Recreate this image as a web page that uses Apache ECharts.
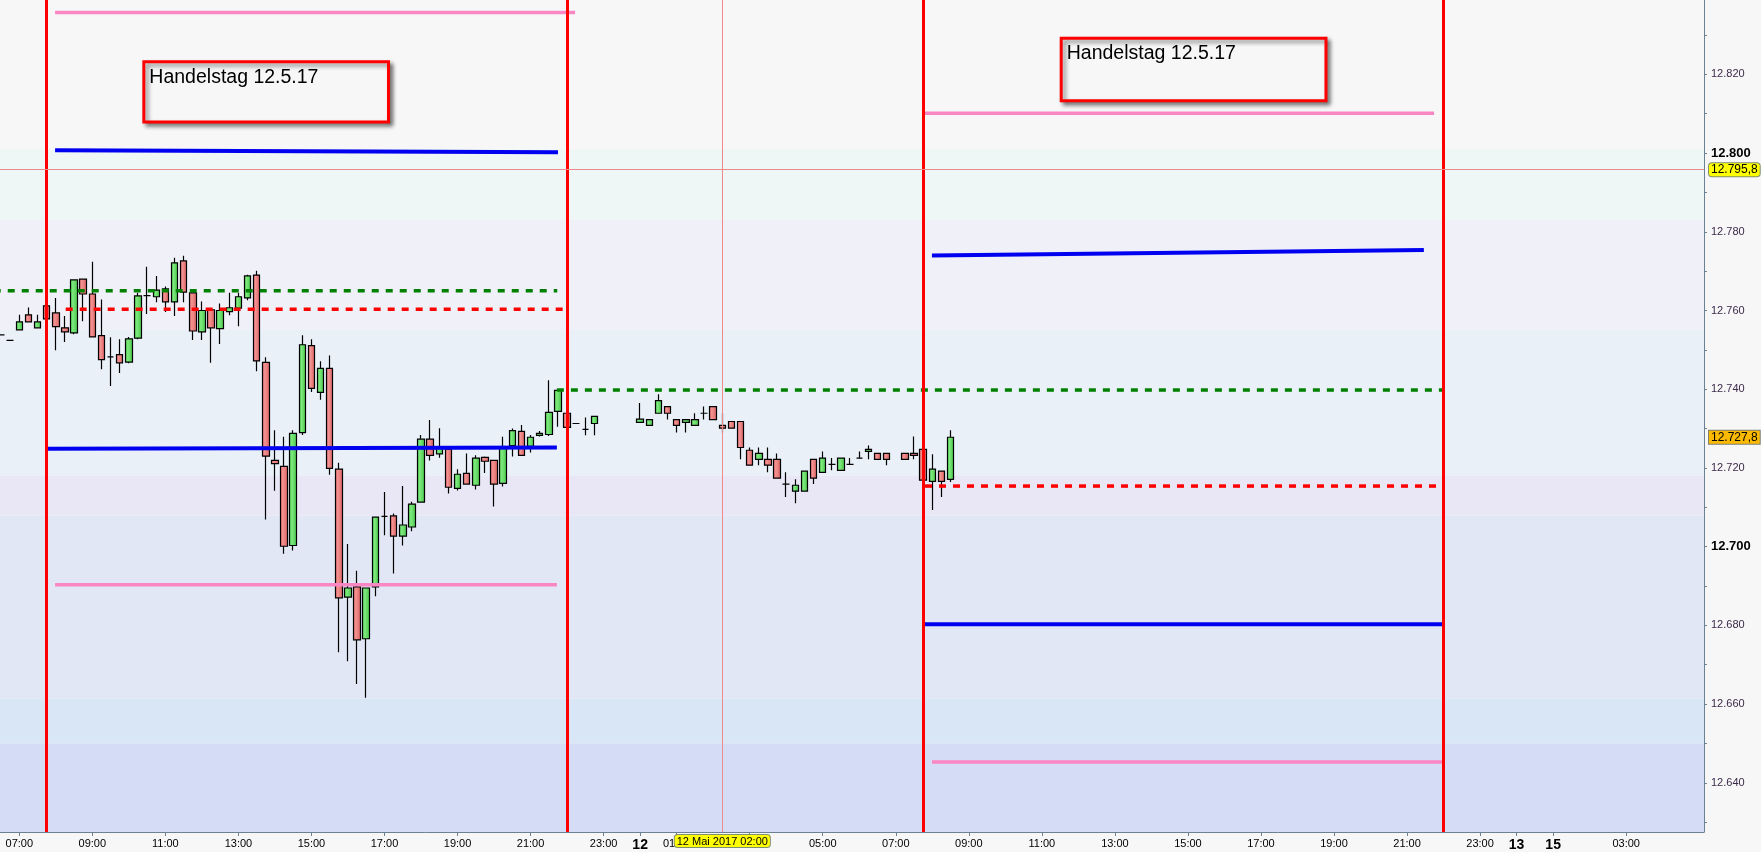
<!DOCTYPE html>
<html>
<head>
<meta charset="utf-8">
<title>DAX 15 Min - Handelstag 12.5.17</title>
<script src="https://cdn.jsdelivr.net/npm/echarts@6.0.0/dist/echarts.min.js"></script>
<style>
  html, body { margin: 0; padding: 0; background: #f7f7f7; }
  #chart { width: 1761px; height: 852px; }
</style>
</head>
<body>
<div id="chart"></div>
<script>
// 15-Minuten-Kerzen ("Tag HH:MM")
const candleTime = [
  '11 06:30', '11 06:45', '11 07:00', '11 07:15', '11 07:30', '11 07:45', '11 08:00', '11 08:15',
  '11 08:30', '11 08:45', '11 09:00', '11 09:15', '11 09:30', '11 09:45', '11 10:00', '11 10:15',
  '11 10:30', '11 10:45', '11 11:00', '11 11:15', '11 11:30', '11 11:45', '11 12:00', '11 12:15',
  '11 12:30', '11 12:45', '11 13:00', '11 13:15', '11 13:30', '11 13:45', '11 14:00', '11 14:15',
  '11 14:30', '11 14:45', '11 15:00', '11 15:15', '11 15:30', '11 15:45', '11 16:00', '11 16:15',
  '11 16:30', '11 16:45', '11 17:00', '11 17:15', '11 17:30', '11 17:45', '11 18:00', '11 18:15',
  '11 18:30', '11 18:45', '11 19:00', '11 19:15', '11 19:30', '11 19:45', '11 20:00', '11 20:15',
  '11 20:30', '11 20:45', '11 21:00', '11 21:15', '11 21:30', '11 21:45', '11 22:00', '11 22:15',
  '11 22:30', '11 22:45',
  '12 00:00', '12 00:15', '12 00:30', '12 00:45', '12 01:00', '12 01:15', '12 01:30', '12 01:45',
  '12 02:00', '12 02:15', '12 02:30', '12 02:45', '12 03:00', '12 03:15', '12 03:30', '12 03:45',
  '12 04:00', '12 04:15', '12 04:30', '12 04:45', '12 05:00', '12 05:15', '12 05:30', '12 05:45',
  '12 06:00', '12 06:15', '12 06:30', '12 06:45', '12 07:15', '12 07:30', '12 07:45', '12 08:00',
  '12 08:15', '12 08:30'
]
const candleOpen = [
  12753.8, 12752.4, 12755.1, 12758.9, 12755.6, 12761.2, 12759.4, 12755.6,
  12754.3, 12768.0, 12764.2, 12753.6, 12748.2, 12748.8, 12746.9, 12753.0,
  12763.8, 12763.5, 12765.5, 12762.2, 12772.6, 12764.5, 12754.6, 12760.2,
  12755.4, 12759.7, 12760.6, 12763.2, 12769.0, 12746.8, 12721.9, 12720.4,
  12700.3, 12729.0, 12751.1, 12739.2, 12745.3, 12719.7, 12687.2, 12689.8,
  12676.6, 12689.8, 12707.7, 12707.8, 12702.7, 12705.0, 12711.3, 12727.3,
  12723.6, 12724.8, 12714.8, 12718.6, 12715.6, 12722.7, 12721.9, 12716.1,
  12725.7, 12729.3, 12725.5, 12728.3, 12728.5, 12734.4, 12733.9, 12731.3,
  12729.8, 12731.3,
  12731.6, 12730.8, 12733.9, 12735.6, 12732.3, 12731.6, 12730.8, 12733.9,
  12735.6, 12730.8, 12731.8, 12731.8, 12724.5, 12722.2, 12722.2, 12722.2,
  12715.9, 12714.1, 12714.1, 12722.2, 12718.9, 12720.9, 12719.4, 12720.9,
  12722.5, 12724.2, 12723.7, 12723.7, 12723.7, 12723.7, 12724.7, 12716.6,
  12719.2, 12717.1
]
const candleHigh = [
  12753.8, 12752.4, 12758.9, 12760.8, 12758.9, 12761.2, 12763.2, 12758.6,
  12767.8, 12768.0, 12772.4, 12762.8, 12753.2, 12752.7, 12753.3, 12764.5,
  12771.1, 12768.8, 12766.1, 12773.4, 12773.9, 12764.5, 12762.3, 12760.2,
  12761.8, 12764.5, 12764.5, 12769.1, 12770.1, 12748.1, 12729.6, 12727.9,
  12729.6, 12753.7, 12752.7, 12747.1, 12748.6, 12721.3, 12700.7, 12693.9,
  12689.5, 12707.5, 12713.9, 12708.4, 12715.4, 12711.4, 12728.4, 12732.2,
  12730.1, 12724.8, 12719.7, 12723.7, 12723.2, 12722.9, 12721.9, 12727.9,
  12730.0, 12730.9, 12728.4, 12729.4, 12742.3, 12739.7, 12733.9, 12731.3,
  12732.8, 12733.1,
  12736.5, 12732.3, 12738.7, 12735.6, 12732.3, 12732.3, 12733.9, 12735.6,
  12735.6, 12733.9, 12731.8, 12731.8, 12725.2, 12725.2, 12725.2, 12723.7,
  12718.9, 12717.1, 12719.2, 12722.2, 12724.2, 12722.5, 12722.5, 12722.5,
  12724.2, 12725.7, 12723.7, 12723.7, 12723.7, 12728.0, 12724.7, 12723.5,
  12719.2, 12729.6
]
const candleLow = [
  12753.8, 12752.4, 12755.1, 12757.1, 12755.6, 12757.9, 12749.9, 12752.0,
  12754.0, 12757.3, 12753.3, 12745.1, 12740.8, 12744.1, 12746.6, 12752.7,
  12759.1, 12762.1, 12759.6, 12758.6, 12762.1, 12752.5, 12752.5, 12746.7,
  12751.5, 12758.8, 12756.0, 12762.6, 12744.6, 12706.9, 12714.2, 12698.2,
  12699.0, 12728.4, 12739.3, 12737.3, 12718.3, 12673.2, 12670.9, 12665.1,
  12661.6, 12687.4, 12702.9, 12693.2, 12700.3, 12703.9, 12711.3, 12721.9,
  12722.6, 12713.5, 12714.3, 12715.9, 12714.5, 12718.7, 12710.2, 12715.3,
  12722.9, 12723.1, 12723.9, 12728.0, 12728.1, 12730.5, 12730.3, 12731.3,
  12728.3, 12728.3,
  12731.6, 12730.8, 12733.9, 12732.3, 12729.0, 12729.0, 12730.8, 12732.3,
  12732.3, 12729.0, 12730.1, 12722.2, 12720.7, 12720.7, 12718.9, 12717.4,
  12712.6, 12711.0, 12714.1, 12715.9, 12718.9, 12719.4, 12719.4, 12720.9,
  12722.5, 12722.2, 12722.2, 12720.7, 12722.2, 12722.2, 12716.9, 12709.3,
  12712.6, 12716.4
]
const candleClose = [
  12753.8, 12752.4, 12757.1, 12757.1, 12757.1, 12757.9, 12755.9, 12754.6,
  12767.8, 12764.2, 12753.3, 12747.5, 12748.2, 12746.7, 12752.8, 12763.7,
  12763.8, 12765.2, 12762.2, 12772.1, 12764.7, 12754.8, 12760.0, 12755.6,
  12760.0, 12760.7, 12763.5, 12768.8, 12747.2, 12723.0, 12721.1, 12700.1,
  12728.8, 12751.3, 12740.2, 12745.3, 12719.9, 12687.0, 12689.5, 12676.3,
  12689.5, 12707.5, 12707.7, 12702.7, 12705.5, 12710.8, 12727.3, 12723.2,
  12725.0, 12715.1, 12718.4, 12715.9, 12722.5, 12721.7, 12715.9, 12725.2,
  12729.5, 12723.2, 12727.8, 12728.8, 12734.1, 12739.7, 12730.3, 12731.3,
  12729.8, 12733.1,
  12732.4, 12732.3, 12737.1, 12733.9, 12730.8, 12732.3, 12732.3, 12733.9,
  12732.3, 12730.1, 12730.1, 12725.2, 12720.7, 12723.7, 12720.7, 12717.4,
  12715.9, 12715.6, 12719.2, 12717.4, 12722.5, 12720.9, 12722.5, 12720.9,
  12722.5, 12724.7, 12722.2, 12722.2, 12722.2, 12723.2, 12716.9, 12719.7,
  12716.6, 12727.8
]

// Marken, Zeit in Stunden ab 11.05. 00:00
const levelKind  = ['pink', 'blue', 'green', 'red', 'blue', 'pink', 'pink', 'blue', 'green', 'red', 'blue', 'pink']
const levelFrom  = [7.98, 7.98, 6.3, 8.27, 7.73, 7.98, 31.74, 31.99, 21.72, 31.8, 31.74, 31.99]
const levelTo    = [22.22, 21.75, 21.73, 21.89, 21.72, 21.72, 45.74, 45.46, 45.98, 45.98, 45.98, 45.98]
const levelStart = [12835.7, 12800.7, 12765.0, 12760.3, 12724.9, 12690.3, 12810.1, 12774.0, 12739.8, 12715.4, 12680.3, 12645.3]
const levelEnd   = [12835.7, 12800.2, 12765.0, 12760.3, 12725.2, 12690.3, 12810.1, 12775.4, 12739.8, 12715.4, 12680.3, 12645.3]
const sessionLines = [7.75, 22, 31.75, 46]

// Notizen
const noteText   = ['Handelstag 12.5.17', 'Handelstag 12.5.17']
const noteFrom   = [10.41, 35.53]
const noteTo     = [17.11, 42.78]
const noteTop    = [12823.2, 12829.2]
const noteBottom = [12807.9, 12813.3]

// Hintergrund (Volumenzonen)
const bandEdges = [12838.9, 12801.0, 12783.0, 12755.1, 12718.0, 12707.9, 12661.4, 12650.0, 12627.5]

// Achsen
const xMin = 6.4715
const xMax = 53.131
const yMin = 12627.5
const yMax = 12838.9
const xLabelHours = [7, 9, 11, 13, 15, 17, 19, 21, 23, 24, 25, 27, 29, 31, 33, 35, 37, 39, 41, 43, 45, 47, 48, 49, 51]
const xLabelText = ['07:00', '09:00', '11:00', '13:00', '15:00', '17:00', '19:00', '21:00', '23:00', '12',
  '01:00', '03:00', '05:00', '07:00', '09:00', '11:00', '13:00', '15:00', '17:00', '19:00', '21:00', '23:00',
  '13', '15', '03:00']
const yTicks = [12630, 12640, 12650, 12660, 12670, 12680, 12690, 12700, 12710, 12720, 12730,
  12740, 12750, 12760, 12770, 12780, 12790, 12800, 12810, 12820, 12830]
const yLabels = [12640, 12660, 12680, 12700, 12720, 12740, 12760, 12780, 12800, 12820]
const yBold = [12700, 12800]

const crossTime = 26.25
const crossTimeLabel = '12 Mai 2017 02:00'
const crossPrice = 12795.8
const lastPrice = 12727.8

const toHours = s => {
  const [day, hm] = s.split(' ')
  const [h, m] = hm.split(':').map(Number)
  return (Number(day) - 11) * 24 + h + m / 60
}
const fmtThousand = v => {
  const s = String(Math.round(v))
  return s.slice(0, -3) + '.' + s.slice(-3)
}
const fmtPrice = v => fmtThousand(Math.floor(v)) + ',' + Math.round((v % 1) * 10)

const bandColors = ['#f7f7f7', '#eef7f5', '#f0f0f8', '#e9f0f8', '#e9e6f6', '#e1e7f5', '#d8e6f6', '#d5ddf6']
const levelStyle = {
  pink: { color: '#fa86c4', width: 3.5, type: 'solid' },
  blue: { color: '#0000f0', width: 4, type: 'solid' },
  green: { color: '#008000', width: 3.5, type: [7, 7] },
  red: { color: '#ff0000', width: 3.5, type: [7, 7] }
}
const axisColor = '#6c8292'
const crossColor = '#f08a8a'
const font = 'Liberation Sans, Arial, sans-serif'

const grad = (a, b, c) => ({
  type: 'linear', x: 0, y: 0, x2: 1, y2: 0,
  colorStops: [{ offset: 0, color: a }, { offset: 0.35, color: b }, { offset: 1, color: c }]
})

const candles = candleTime.map((t, i) => [toHours(t), candleOpen[i], candleClose[i], candleLow[i], candleHigh[i]])

const series = [
  {
    name: 'bands',
    type: 'line',
    data: [],
    z: 0,
    silent: true,
    markArea: {
      silent: true,
      data: bandColors.map((c, i) => [
        { yAxis: bandEdges[i + 1], itemStyle: { color: c, opacity: 1 } },
        { yAxis: bandEdges[i] }
      ])
    }
  },
  {
    name: 'DAX',
    type: 'candlestick',
    data: candles,
    z: 2,
    barWidth: 7,
    itemStyle: {
      color: grad('#47cc47', '#7fe97f', '#44c644'),
      color0: grad('#e06262', '#f39393', '#dc5e5e'),
      borderColor: '#000',
      borderColor0: '#000',
      borderColorDoji: '#000',
      borderWidth: 1.2
    }
  },
  {
    // letzter Kurs an der Preisachse
    name: 'last',
    type: 'line',
    data: [],
    clip: false,
    z: 6,
    markLine: {
      silent: true,
      symbol: ['none', 'none'],
      lineStyle: { width: 0 },
      label: {
        show: true,
        position: 'end',
        distance: 5,
        formatter: fmtPrice(lastPrice),
        backgroundColor: '#fbba00',
        borderColor: '#7f7f6f',
        borderWidth: 1,
        padding: [1, 2, 0, 2],
        color: '#000',
        fontSize: 12,
        fontFamily: font
      },
      data: [{ yAxis: lastPrice }]
    }
  }
]

levelKind.forEach((k, i) => {
  series.push({
    name: 'level' + i,
    type: 'line',
    z: 3,
    silent: true,
    symbol: 'none',
    lineStyle: Object.assign({ cap: 'butt' }, levelStyle[k]),
    data: [[levelFrom[i], levelStart[i]], [levelTo[i], levelEnd[i]]]
  })
})

series.push({
  name: 'sessions',
  type: 'line',
  data: [],
  z: 4,
  markLine: {
    silent: true,
    symbol: ['none', 'none'],
    label: { show: false },
    lineStyle: { color: '#ff0000', width: 3, type: 'solid' },
    data: sessionLines.map(v => ({ xAxis: v }))
  }
})

series.push({
  name: 'notes',
  type: 'line',
  data: [],
  z: 5,
  markArea: {
    silent: true,
    data: noteText.map((t, i) => [
      {
        name: t,
        coord: [noteFrom[i], noteTop[i]],
        itemStyle: {
          color: '#f7f7f7',
          opacity: 1,
          borderColor: '#ff0000',
          borderWidth: 3,
          shadowBlur: 4,
          shadowColor: 'rgba(0,0,0,0.45)',
          shadowOffsetX: 3,
          shadowOffsetY: 3
        },
        label: {
          show: true,
          position: 'insideTopLeft',
          distance: 7,
          formatter: '{b}',
          color: '#000',
          fontSize: 19.5,
          fontFamily: font
        }
      },
      { coord: [noteTo[i], noteBottom[i]] }
    ])
  }
})

const chart = echarts.init(document.getElementById('chart'))
chart.setOption({
  animation: false,
  backgroundColor: '#f7f7f7',
  textStyle: { fontFamily: font },
  grid: { left: 0, right: 57, top: 0, bottom: 18 },
  graphic: [{
    type: 'text',
    x: -3,
    y: 822,
    silent: true,
    style: { text: 'Indikativ', font: 'italic 11px ' + font, fill: '#333' }
  }],
  xAxis: {
    type: 'value',
    min: xMin,
    max: xMax,
    splitLine: { show: false },
    axisLine: { show: true, onZero: false, lineStyle: { color: axisColor } },
    axisTick: { show: true, length: 4, customValues: xLabelHours, lineStyle: { color: axisColor } },
    axisLabel: {
      customValues: xLabelHours,
      margin: 6,
      fontSize: 11,
      color: '#000',
      formatter: v => {
        const t = xLabelText[xLabelHours.indexOf(Math.round(v))]
        return t.length < 3 ? '{day|' + t + '}' : t
      },
      rich: { day: { fontWeight: 'bold', fontSize: 14, color: '#000' } }
    },
    axisPointer: {
      show: true,
      status: 'show',
      value: crossTime,
      lineStyle: { color: crossColor, width: 1, type: 'solid' },
      label: {
        show: true,
        margin: 3,
        formatter: () => crossTimeLabel,
        backgroundColor: '#ffff00',
        borderColor: '#7f8f6f',
        borderWidth: 1,
        padding: [1, 2, 0, 2],
        color: '#000',
        fontSize: 11,
        fontFamily: font
      }
    }
  },
  yAxis: {
    type: 'value',
    position: 'right',
    min: yMin,
    max: yMax,
    splitLine: { show: false },
    axisLine: { show: true, lineStyle: { color: axisColor } },
    axisTick: { show: true, length: 3, customValues: yTicks, lineStyle: { color: axisColor } },
    axisLabel: {
      customValues: yLabels,
      margin: 7,
      fontSize: 11,
      color: '#3c2a4a',
      formatter: v => yBold.includes(Math.round(v)) ? '{b|' + fmtThousand(v) + '}' : fmtThousand(v),
      rich: { b: { fontWeight: 'bold', fontSize: 13, color: '#000' } }
    },
    axisPointer: {
      show: true,
      status: 'show',
      value: crossPrice,
      lineStyle: { color: crossColor, width: 1, type: 'solid' },
      label: {
        show: true,
        margin: 5,
        formatter: () => fmtPrice(crossPrice),
        backgroundColor: '#ffff00',
        borderColor: '#7f8f6f',
        borderWidth: 1,
        padding: [1, 2, 0, 2],
        color: '#000',
        fontSize: 12,
        fontFamily: font
      }
    }
  },
  series
})
</script>
</body>
</html>
